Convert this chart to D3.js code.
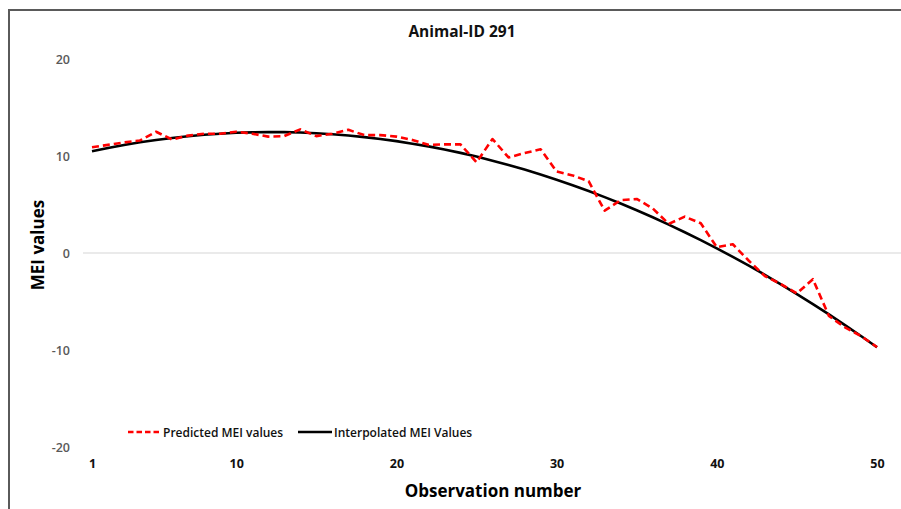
<!DOCTYPE html>
<html>
<head>
<meta charset="utf-8">
<script src="https://cdn.jsdelivr.net/npm/d3@7"></script>
<style>
  html, body { margin: 0; padding: 0; background: #fff; }
  svg { display: block; font-family: "Open Sans", "Noto Sans", sans-serif; }
</style>
</head>
<body>
<svg id="chart" width="901" height="509"></svg>
<script>
const observations = d3.range(1, 51);
const predictedMEI = [
  10.9, 11.15, 11.4, 11.6, 12.5, 11.7, 12.1, 12.3, 12.3, 12.5,
  12.3, 12.0, 12.05, 12.75, 12.05, 12.3, 12.7, 12.15, 12.15, 12.0,
  11.65, 11.15, 11.2, 11.2, 9.35, 11.75, 9.85, 10.3, 10.7, 8.4,
  8.0, 7.4, 4.36, 5.45, 5.57, 4.6, 3.0, 3.75, 3.06, 0.6,
  0.9, -0.8, -2.37, -3.2, -4.16, -2.7, -6.5, -7.66, -8.56, -9.7
];
const interpolatedMEI = [
  10.50, 10.83, 11.14, 11.41, 11.65, 11.86, 12.04, 12.19, 12.30, 12.39,
  12.44, 12.47, 12.46, 12.42, 12.35, 12.25, 12.12, 11.95, 11.76, 11.53,
  11.27, 10.99, 10.67, 10.32, 9.94, 9.52, 9.08, 8.60, 8.10, 7.56,
  6.99, 6.39, 5.76, 5.10, 4.41, 3.69, 2.93, 2.14, 1.33, 0.48,
  -0.40, -1.31, -2.25, -3.23, -4.23, -5.26, -6.33, -7.43, -8.56, -9.72
];
const xTickLabels = [1, 10, 20, 30, 40, 50];
const yTickLabels = [-20, -10, 0, 10, 20];

const svg = d3.select("#chart");

// frame (top and left border)
svg.append("path")
  .attr("d", "M9,509 V10 H901")
  .attr("fill", "none")
  .attr("stroke", "#5a5a5a")
  .attr("stroke-width", 2);

const x = d3.scaleLinear().domain([1, 50]).range([92, 877]);
const y = d3.scaleLinear().domain([-20, 20]).range([447, 59]);

// zero gridline
svg.append("line")
  .attr("x1", 83).attr("x2", 901)
  .attr("y1", y(0)).attr("y2", y(0))
  .attr("stroke", "#e3e3e3").attr("stroke-width", 1.5);

// Y axis labels
const yAxis = d3.axisLeft(y).tickValues(yTickLabels).tickSize(0).tickPadding(0)
  .tickFormat(d => String(d));
const gy = svg.append("g").attr("transform", "translate(70,0)").call(yAxis);
gy.select(".domain").remove();
gy.selectAll("text")
  .attr("fill", "#595959")
  .style("font-size", "12.5px")
  .style("font-weight", "600")
  .style("font-family", "'Open Sans', sans-serif");

// X axis labels
const xAxis = d3.axisBottom(x).tickValues(xTickLabels).tickSize(0).tickPadding(0)
  .tickFormat(d => String(d));
const gx = svg.append("g").attr("transform", "translate(0,459)").call(xAxis);
gx.select(".domain").remove();
gx.selectAll("text")
  .attr("fill", "#111")
  .style("font-size", "12.5px")
  .style("font-weight", "700")
  .style("font-family", "'Open Sans', sans-serif");

// lines
const line = d3.line().x((d, i) => x(observations[i])).y(d => y(d));

svg.append("path")
  .datum(interpolatedMEI)
  .attr("d", line)
  .attr("fill", "none")
  .attr("stroke", "#000")
  .attr("stroke-width", 2.6)
  .attr("stroke-linejoin", "round");

svg.append("path")
  .datum(predictedMEI)
  .attr("d", line)
  .attr("fill", "none")
  .attr("stroke", "#ff0000")
  .attr("stroke-width", 2.6)
  .attr("stroke-dasharray", "7,4")
  .attr("stroke-linejoin", "round");

// title
svg.append("text")
  .attr("x", 462).attr("y", 37)
  .attr("text-anchor", "middle")
  .attr("fill", "#111")
  .style("font-size", "15.5px")
  .style("font-weight", "700")
  .text("Animal-ID 291");

// axis titles
svg.append("text")
  .attr("transform", "translate(44,245) rotate(-90)")
  .attr("text-anchor", "middle")
  .attr("fill", "#000")
  .style("font-size", "17px")
  .style("font-weight", "700")
  .text("MEI values");

svg.append("text")
  .attr("x", 493).attr("y", 497)
  .attr("text-anchor", "middle")
  .attr("fill", "#000")
  .style("font-size", "17px")
  .style("font-weight", "700")
  .text("Observation number");

// legend
const legend = svg.append("g").attr("transform", "translate(0,432)");
legend.append("line")
  .attr("x1", 128).attr("x2", 161).attr("y1", 0).attr("y2", 0)
  .attr("stroke", "#ff0000").attr("stroke-width", 2.6)
  .attr("stroke-dasharray", "5.5,3");
legend.append("text")
  .attr("x", 163).attr("y", 4.5)
  .attr("fill", "#111")
  .style("font-size", "12px")
  .style("font-weight", "600")
  .text("Predicted MEI values");
legend.append("line")
  .attr("x1", 298).attr("x2", 332).attr("y1", 0).attr("y2", 0)
  .attr("stroke", "#000").attr("stroke-width", 2.6);
legend.append("text")
  .attr("x", 334).attr("y", 4.5)
  .attr("fill", "#111")
  .style("font-size", "12px")
  .style("font-weight", "600")
  .text("Interpolated MEI Values");
</script>
</body>
</html>
